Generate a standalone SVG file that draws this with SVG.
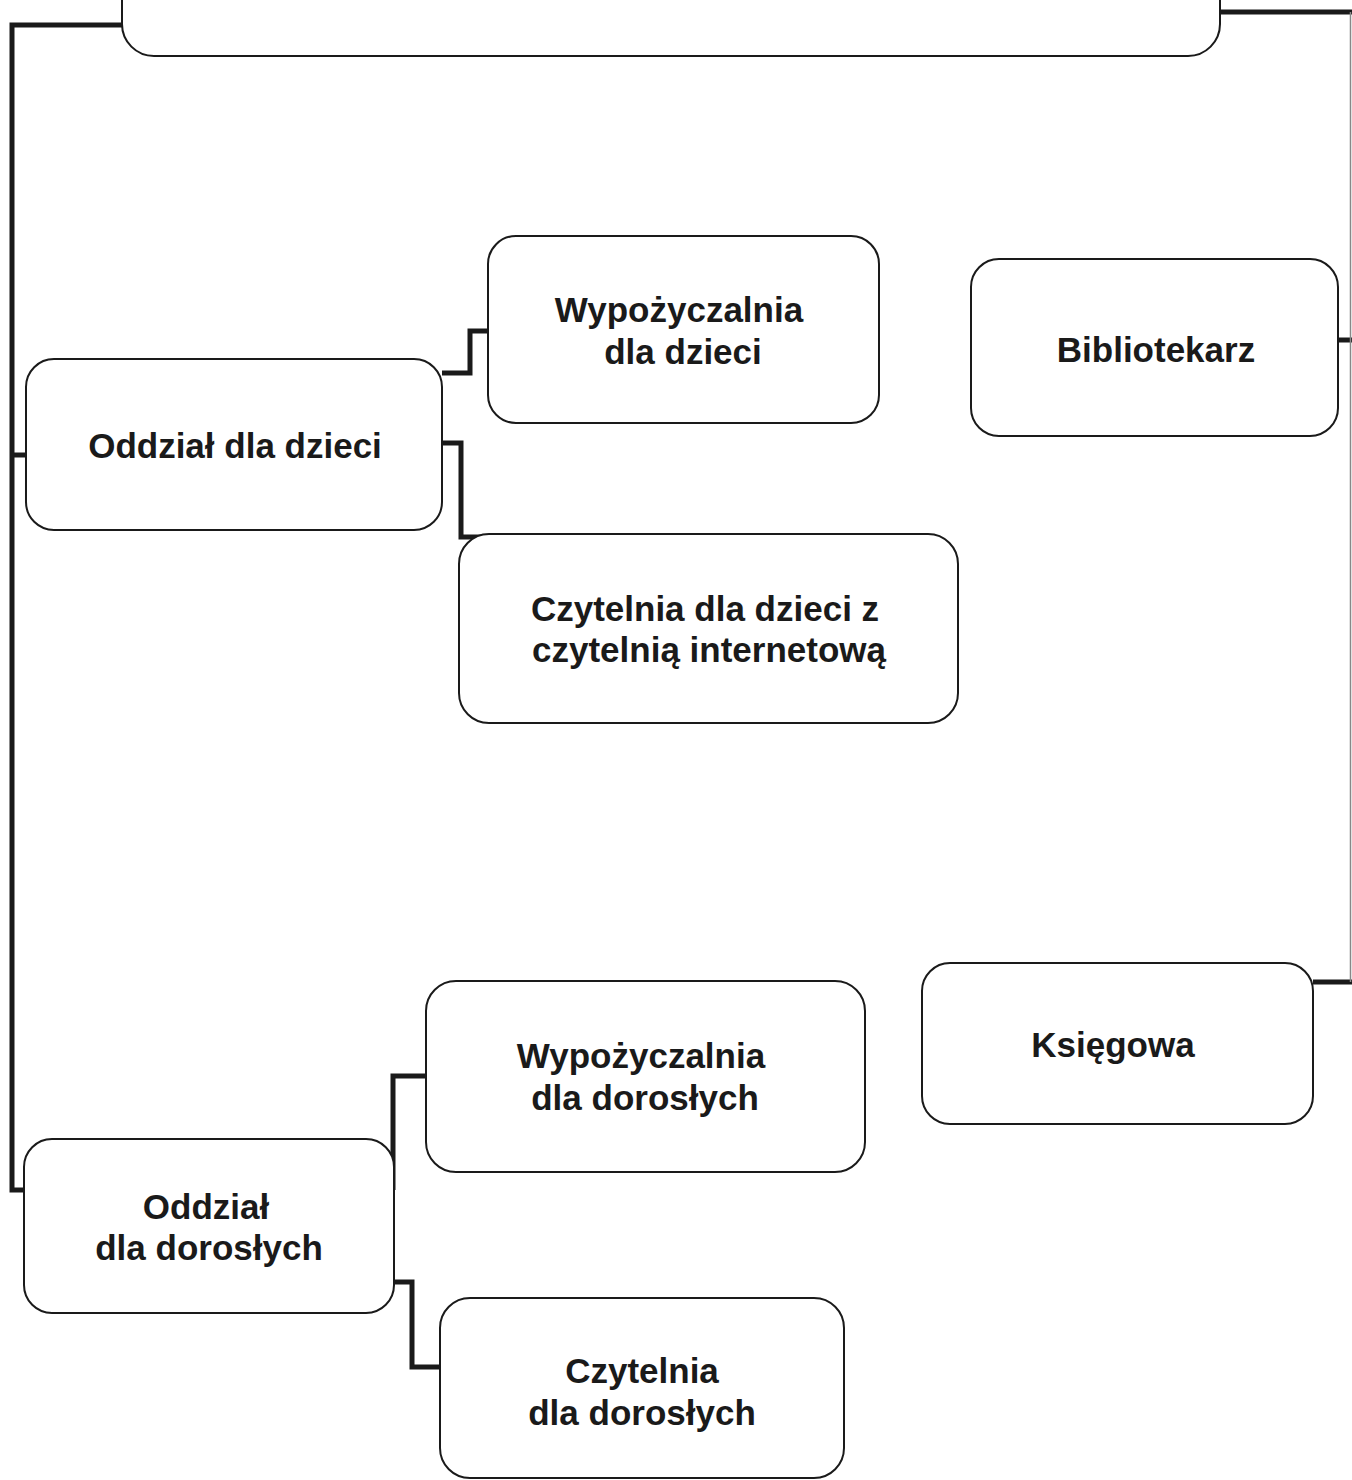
<svg xmlns="http://www.w3.org/2000/svg" width="1352" height="1480" viewBox="0 0 1352 1480">
<style>
.box{fill:#fff;stroke:#1a1a1a;stroke-width:2}
.t{font-family:"Liberation Sans",Arial,sans-serif;font-weight:bold;font-size:35px;fill:#1a1a1a;text-anchor:middle}
.c{fill:none;stroke:#1a1a1a;stroke-width:5;stroke-linejoin:miter}
.cr{fill:none;stroke:#888;stroke-width:1.5}
</style>
<rect width="1352" height="1480" fill="#fff"/>
<g id="connectors">
<path class="c" d="M124,25 H12 V1190 H26"/>
<path class="c" d="M12,455 H28"/>
<path class="c" d="M442,373 H470 V331 H490"/>
<path class="c" d="M442,443 H461 V537 H492"/>
<path class="c" d="M393,1190 V1076 H428"/>
<path class="c" d="M393,1282 H412 V1367 H442"/>
<path class="c" d="M1220,12 H1352"/>
<path class="c" d="M1338,340 H1352"/>
<path class="c" d="M1313,982 H1352"/>
<path class="cr" d="M1350.5,12 V982"/>
</g>
<g id="top"><rect class="box" x="122" y="-40" width="1098" height="96" rx="32"/></g>
<g id="wyp-dzieci"><rect class="box" x="488" y="236" width="391" height="187" rx="28"/>
<text class="t" x="679" y="322">Wypożyczalnia</text><text class="t" x="683" y="364">dla dzieci</text></g>
<g id="bibliotekarz"><rect class="box" x="971" y="259" width="367" height="177" rx="28"/>
<text class="t" x="1156" y="362">Bibliotekarz</text></g>
<g id="oddz-dzieci"><rect class="box" x="26" y="359" width="416" height="171" rx="28"/>
<text class="t" x="235" y="458">Oddział dla dzieci</text></g>
<g id="czyt-dzieci"><rect class="box" x="459" y="534" width="499" height="189" rx="30"/>
<text class="t" x="705" y="621">Czytelnia dla dzieci z</text><text class="t" x="709" y="662">czytelnią internetową</text></g>
<g id="wyp-dorosli"><rect class="box" x="426" y="981" width="439" height="191" rx="30"/>
<text class="t" x="641" y="1068">Wypożyczalnia</text><text class="t" x="645" y="1110">dla dorosłych</text></g>
<g id="ksiegowa"><rect class="box" x="922" y="963" width="391" height="161" rx="28"/>
<text class="t" x="1113" y="1057">Księgowa</text></g>
<g id="oddz-dorosli"><rect class="box" x="24" y="1139" width="370" height="174" rx="28"/>
<text class="t" x="206" y="1219">Oddział</text><text class="t" x="209" y="1260">dla dorosłych</text></g>
<g id="czyt-dorosli"><rect class="box" x="440" y="1298" width="404" height="180" rx="30"/>
<text class="t" x="642" y="1383">Czytelnia</text><text class="t" x="642" y="1425">dla dorosłych</text></g>
</svg>
